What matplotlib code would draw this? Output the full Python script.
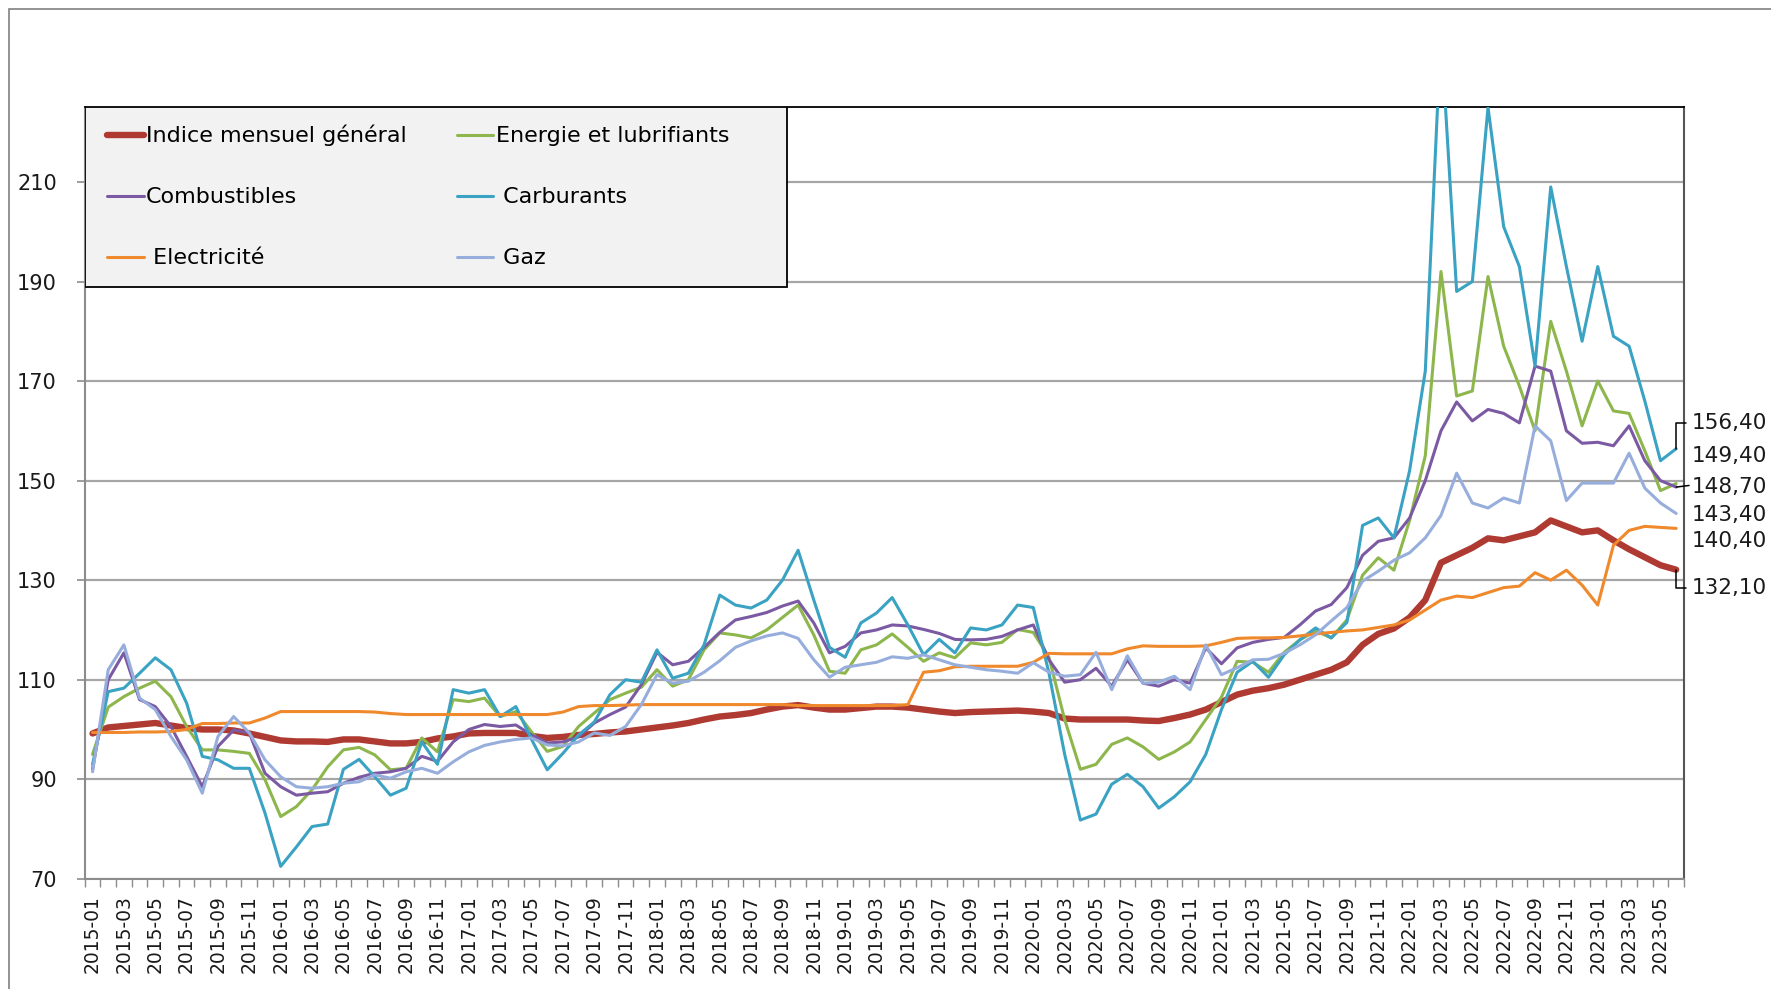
import numpy as np
import pandas as pd
import matplotlib
matplotlib.use("Agg")
import matplotlib.pyplot as plt
from matplotlib.patches import Rectangle

# -----------------------
# Data (monthly, 2015-01 .. 2023-06)
# -----------------------
months = pd.date_range("2015-01-01", "2023-06-01", freq="MS").strftime("%Y-%m").tolist()

indice_general = [
    99.2, 100.4, 100.7, 101.0, 101.3, 100.8, 100.3, 100.0, 100.0, 99.8, 99.2, 98.5,
    97.8, 97.6, 97.6, 97.5, 98.0, 98.0, 97.6, 97.2, 97.2, 97.5, 98.2, 98.6,
    99.2, 99.3, 99.3, 99.3, 98.7, 98.3, 98.5, 98.9, 99.1, 99.4, 99.6, 100.0,
    100.4, 100.8, 101.3, 102.0, 102.6, 102.9, 103.3, 104.0, 104.6, 104.9, 104.4, 104.0,
    104.0, 104.3, 104.6, 104.6, 104.4, 104.0, 103.6, 103.3, 103.5, 103.6, 103.7, 103.8,
    103.6, 103.3, 102.2, 102.0, 102.0, 102.0, 102.0, 101.8, 101.7, 102.3, 103.0, 104.0,
    105.5, 107.0, 107.8, 108.3, 109.0, 110.0, 111.0, 112.0, 113.5, 117.0, 119.2, 120.3,
    122.5, 126.0, 133.5, 135.0, 136.5, 138.4, 138.0, 138.8, 139.6, 142.0, 140.8, 139.6,
    140.0, 138.0, 136.2, 134.6, 133.0, 132.1,
]

energie = [
    95.0, 104.5, 106.6, 108.3, 109.7, 106.6, 100.6, 95.9, 95.9, 95.6, 95.2, 89.9,
    82.5, 84.5, 87.9, 92.5, 95.9, 96.4, 94.9, 91.9, 92.2, 98.3, 95.5, 106.0,
    105.6, 106.3, 102.6, 103.6, 99.5, 95.6, 96.6, 100.6, 103.3, 106.0, 107.3, 108.5,
    112.0, 108.7, 110.0, 116.0, 119.4, 119.0, 118.4, 120.0, 122.5, 125.0, 119.0, 111.7,
    111.3, 116.0, 117.0, 119.2, 116.5, 113.7, 115.4, 114.4, 117.4, 117.0, 117.5, 120.1,
    119.5, 114.5, 102.0, 92.0, 93.0, 97.0, 98.3, 96.5, 94.0, 95.5, 97.5, 102.0,
    106.5, 113.7, 113.5, 111.5, 115.5, 118.0, 119.8, 118.4, 122.0, 131.0, 134.5, 132.0,
    142.0, 155.0, 192.0, 167.0, 168.0, 191.0, 177.0, 169.0, 160.0, 182.0, 172.0, 161.0,
    170.0, 164.0, 163.5, 156.0, 148.0, 149.4,
]

combustibles = [
    92.0, 110.0, 115.4, 106.0, 104.6, 100.6, 94.6, 88.5, 96.6, 99.9, 99.3, 91.2,
    88.5, 86.8, 87.2, 87.5, 89.2, 90.4, 91.2, 91.5, 92.2, 94.6, 93.6, 97.5,
    100.0, 101.0, 100.6, 100.9, 98.9, 97.3, 97.5, 98.5, 101.3, 103.0, 104.5, 109.0,
    115.5, 113.0, 113.7, 116.5, 119.5, 122.0, 122.7, 123.5, 124.8, 125.8, 121.4, 115.4,
    116.7, 119.4, 120.0, 121.0, 120.8, 120.1, 119.3, 118.1, 118.0, 118.1, 118.7, 120.0,
    121.0, 114.0, 109.5, 110.0, 112.3, 108.7, 114.0, 109.3, 108.7, 110.0, 109.3, 116.4,
    113.2, 116.4, 117.5, 118.1, 118.5, 121.0, 123.8, 125.1, 128.5, 135.0, 137.8, 138.5,
    142.5, 150.0, 160.0, 165.8, 162.0, 164.3, 163.5, 161.6, 173.0, 172.0, 160.0, 157.5,
    157.7, 157.0, 161.0, 154.0, 150.0, 148.7,
]

carburants = [
    93.0, 107.6, 108.3, 111.3, 114.4, 112.0, 105.3, 94.6, 93.9, 92.2, 92.2, 83.2,
    72.5, 76.4, 80.5, 81.0, 92.0, 94.0, 90.5, 86.8, 88.2, 97.5, 93.0, 108.0,
    107.3, 108.0, 102.6, 104.6, 98.0, 91.9, 95.2, 98.9, 101.5, 107.0, 110.0, 109.5,
    116.0, 110.3, 111.3, 117.0, 127.0, 125.0, 124.4, 126.0, 130.0, 136.0, 126.0, 116.5,
    114.5, 121.4, 123.4, 126.5, 121.0, 115.0, 118.1, 115.4, 120.4, 120.0, 121.0, 125.0,
    124.5, 111.3, 95.0, 81.8, 83.0, 89.0, 91.0, 88.5, 84.2, 86.5, 89.5, 95.0,
    104.0, 111.5, 113.7, 110.5, 115.0, 118.0, 120.4, 118.4, 121.5, 141.0, 142.5, 138.5,
    152.0, 172.0, 240.0, 188.0, 190.0, 225.0, 201.0, 193.0, 173.0, 209.0, 193.0, 178.0,
    193.0, 179.0, 177.0, 166.0, 154.0, 156.4,
]

electricite = [
    99.4, 99.4, 99.4, 99.5, 99.5, 99.6, 100.0, 101.2, 101.2, 101.3, 101.3, 102.3,
    103.6, 103.6, 103.6, 103.6, 103.6, 103.6, 103.5, 103.2, 103.0, 103.0, 103.0, 103.0,
    103.0, 103.0, 103.0, 103.0, 103.0, 103.0, 103.5, 104.6, 104.8, 104.8, 104.9, 105.0,
    105.0, 105.0, 105.0, 105.0, 105.0, 105.0, 105.0, 105.0, 105.0, 104.8, 104.8, 104.8,
    104.8, 104.8, 104.8, 104.8, 105.0, 111.5, 111.8, 112.6, 112.7, 112.7, 112.7, 112.7,
    113.5, 115.3, 115.2, 115.2, 115.2, 115.2, 116.2, 116.8, 116.7, 116.7, 116.7, 116.8,
    117.5, 118.3, 118.4, 118.4, 118.5, 118.8, 119.2, 119.5, 119.8, 120.0, 120.5, 121.0,
    122.0, 124.0, 126.0, 126.8, 126.5, 127.5, 128.5, 128.8, 131.5, 130.0, 132.0, 129.0,
    125.0, 137.0, 140.0, 140.8, 140.6, 140.4,
]

gaz = [
    91.5, 112.0, 117.0, 106.3, 104.0, 98.6, 93.9, 87.2, 98.6, 102.6, 99.3, 93.9,
    90.5, 88.5, 88.2, 88.5, 89.2, 89.5, 90.9, 90.2, 91.5, 92.2, 91.2, 93.5,
    95.5, 96.8, 97.5, 98.0, 98.3, 96.9, 96.7, 97.5, 99.3, 98.8, 100.6, 105.0,
    111.0, 109.3, 109.7, 111.5, 113.8, 116.5, 117.8, 118.8, 119.4, 118.3, 114.0, 110.5,
    112.5, 113.0, 113.5, 114.6, 114.3, 115.0, 114.0, 113.0, 112.5, 112.0, 111.7, 111.3,
    113.4, 111.5, 110.7, 111.0, 115.5, 108.0, 114.8, 109.3, 109.5, 110.7, 108.0, 117.0,
    111.0, 112.4, 114.0, 114.1, 115.3, 117.0, 119.0, 121.8, 124.5, 129.8, 131.8, 134.0,
    135.5, 138.5, 143.0, 151.5, 145.5, 144.5, 146.5, 145.5, 161.0, 158.0, 146.0, 149.5,
    149.5, 149.5, 155.5, 148.5, 145.5, 143.4,
]

# name, values, colour, line width
series = [
    ("Indice mensuel général", indice_general, "#AE3A32", 4.6),
    ("Energie et lubrifiants", energie, "#8DB64C", 2.2),
    ("Combustibles", combustibles, "#7B5AA3", 2.2),
    (" Carburants", carburants, "#3AA2C2", 2.2),
    (" Electricité", electricite, "#F0892C", 2.2),
    (" Gaz", gaz, "#97AEDD", 2.2),
]

# end-of-series data labels: series index, label y position, leader style
end_labels = [(3, 161.6, "bracket"), (1, 155.0, None), (2, 148.7, "line"),
              (5, 143.0, None), (4, 137.8, None), (0, 128.5, "bracket")]

# -----------------------
# Plotting
# -----------------------
W, H = 1771, 989
fig = plt.figure(figsize=(W / 100, H / 100), dpi=100)
ax_l, ax_r, ax_t, ax_b = 84.7, 1684, 107.3, 878.8
ax = fig.add_axes([ax_l / W, 1 - ax_b / H, (ax_r - ax_l) / W, (ax_b - ax_t) / H])

x = np.arange(len(months))
lines = {}
for name, vals, col, lw in series:
    (ln,) = ax.plot(x, vals, color=col, lw=lw, solid_joinstyle="round",
                    solid_capstyle="round", label=name, zorder=3)
    lines[name] = ln

ax.set_xlim(-0.5, len(months) - 0.5)
ax.set_ylim(70, 225)

# y axis
ax.set_yticks(range(70, 211, 20))
ax.yaxis.grid(True, color="#a6a6a6", lw=1.6)
ax.set_axisbelow(True)
ax.tick_params(axis="y", length=6, width=1.2, color="#8c8c8c", pad=14,
               labelsize=15, labelcolor="#1a1a1a")

# x axis: labels every 2 months, tick marks between categories
ax.set_xticks(x[::2])
ax.set_xticklabels(months[::2], rotation=90)
ax.set_xticks(np.arange(-0.5, len(months), 1), minor=True)
ax.tick_params(axis="x", which="major", length=0, pad=12,
               labelsize=13.5, labelcolor="#1a1a1a")
ax.tick_params(axis="x", which="minor", length=6, width=1.0, color="#8c8c8c")

for side in ["left", "bottom"]:
    ax.spines[side].set_color("#8c8c8c")
    ax.spines[side].set_linewidth(1.5)
ax.spines["top"].set_color("black")
ax.spines["top"].set_linewidth(1.3)
ax.spines["right"].set_color("#555555")
ax.spines["right"].set_linewidth(1.5)

# legend box (grey panel with black frame)
box = Rectangle((0, 1 - (287 - ax_t) / (ax_b - ax_t)), (787 - ax_l) / (ax_r - ax_l),
                (287 - ax_t) / (ax_b - ax_t), transform=ax.transAxes,
                facecolor="#f2f2f2", edgecolor="black", lw=1.3, zorder=4)
ax.add_patch(box)

order = [0, 2, 4, 1, 3, 5]
names = [series[i][0] for i in order]
handles = [lines[n] for n in names]
leg = ax.legend(handles, names, ncol=2, loc="upper left",
                bbox_to_anchor=(107 / W, 1 - 125 / H), bbox_transform=fig.transFigure,
                frameon=False, fontsize=16, borderpad=0, borderaxespad=0,
                handlelength=1.65, handletextpad=0.1, columnspacing=2.25,
                labelspacing=1.84)
leg.set_zorder(5)

# data labels at the end of the series
last = len(months) - 1
for idx, ly, leader in end_labels:
    name, vals, col, lw = series[idx]
    v = vals[last]
    txt = f"{v:.2f}".replace(".", ",")
    arrow = None
    if leader == "bracket":
        arrow = dict(arrowstyle="-", color="black", lw=1.1, shrinkA=2, shrinkB=0,
                     relpos=(0, 0.5), connectionstyle="angle,angleA=0,angleB=90,rad=0")
    elif leader == "line":
        arrow = dict(arrowstyle="-", color="black", lw=1.1, shrinkA=0, shrinkB=0,
                     relpos=(0.75, 0.95))
    ax.annotate(txt, xy=(last, v), xytext=(last + 1.0, ly), textcoords="data",
                ha="left", va="center", fontsize=15.5, color="#1a1a1a",
                annotation_clip=False, arrowprops=arrow, zorder=6)

# outer frame of the picture
fig.add_artist(Rectangle((9 / W, -0.5), 2, 1.5 - 9 / H, transform=fig.transFigure,
                         fill=False, edgecolor="#808080", lw=1.2))

fig.savefig("out.png", dpi=100)
